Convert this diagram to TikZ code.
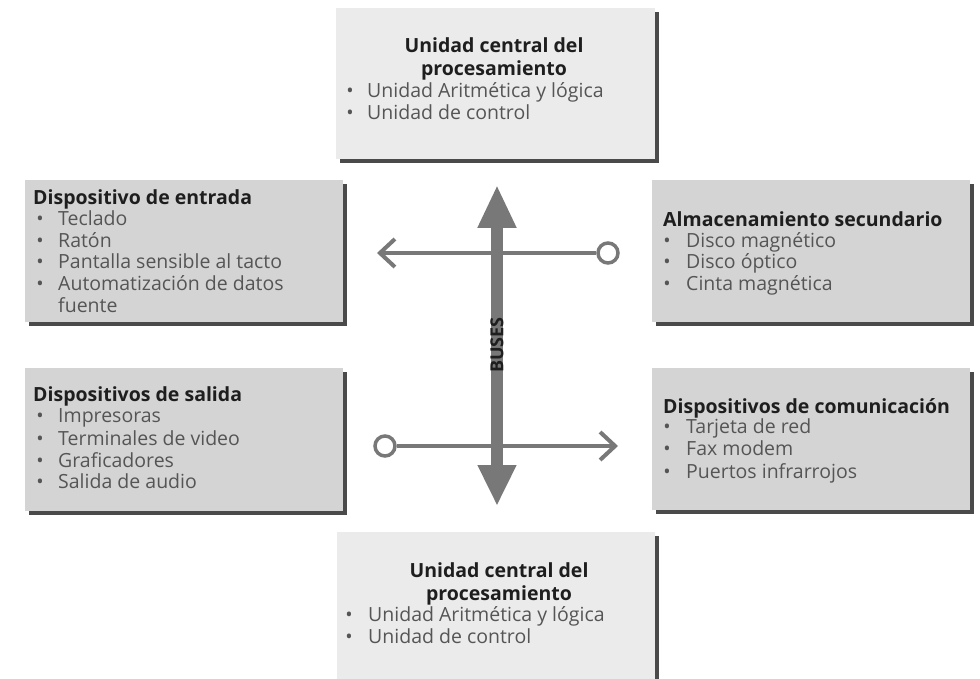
\documentclass[tikz,border=0pt]{standalone}
\usepackage{fontspec}
\setmainfont{Open Sans}
\usetikzlibrary{arrows.meta,shadows}

\definecolor{boxlight}{HTML}{EBEBEB}
\definecolor{boxgray}{HTML}{D4D4D4}
\definecolor{shadowc}{HTML}{4A4A4A}
\definecolor{busgray}{HTML}{787878}
\definecolor{titlec}{HTML}{1E1E1E}
\definecolor{itemc}{HTML}{555555}

\tikzset{
  panel/.style={draw=none, fill=#1, anchor=north west, inner sep=0pt,
    drop shadow={shadow xshift=3.5pt, shadow yshift=-3.5pt, fill=shadowc, opacity=1}},
  heading/.style={font=\fontsize{19.5}{22}\selectfont\bfseries, text=titlec, inner sep=0pt, align=center},
  entry/.style={font=\fontsize{19.5}{22}\selectfont, text=itemc, inner sep=0pt, anchor=mid west},
  dot/.style={font=\fontsize{19.5}{22}\selectfont, text=itemc, inner sep=0pt, anchor=mid},
  busline/.style={draw=busgray, line width=4pt},
  port/.style={circle, draw=busgray, line width=3.5pt, fill=white, minimum size=20pt, inner sep=0pt},
  barb/.style={-{Straight Barb[length=15pt, width=28pt, line width=4pt]}},
}

\newcommand{\listline}[5]{%
  \node[dot] (#1d) at (#2,#4) {•};
  \node[entry] (#1t) at (#3,#4) {#5};}

\begin{document}
\begin{tikzpicture}[x=1pt, y=-1pt]
  \useasboundingbox (0,0) rectangle (980,679);
  \fill[white] (0,0) rectangle (980,679);

  % panels
  \node[panel=boxlight, minimum width=319pt, minimum height=151pt] (cpuA) at (336,8) {};
  \node[panel=boxgray, minimum width=318pt, minimum height=142pt] (inp) at (25,180) {};
  \node[panel=boxgray, minimum width=318pt, minimum height=142pt] (sto) at (652,180) {};
  \node[panel=boxgray, minimum width=318pt, minimum height=143pt] (outp) at (25,368) {};
  \node[panel=boxgray, minimum width=318pt, minimum height=142pt] (com) at (652,368) {};
  \node[panel=boxlight, minimum width=318pt, minimum height=160pt] (cpuB) at (337,532) {};

  % central processing unit (top)
  \node[heading, anchor=mid] (cpuAh1) at (494,50) {Unidad central del};
  \node[heading, anchor=mid] (cpuAh2) at (494,72.5) {procesamiento};
  \listline{cpuAa}{350}{367}{95}{Unidad Aritmética y lógica}
  \listline{cpuAb}{350}{367}{116.5}{Unidad de control}

  % input devices
  \node[heading, anchor=mid west] (inph) at (33,202) {Dispositivo de entrada};
  \listline{inpa}{40}{58}{223}{Teclado}
  \listline{inpb}{40}{58}{245}{Ratón}
  \listline{inpc}{40}{58}{266}{Pantalla sensible al tacto}
  \listline{inpd}{40}{58}{288}{Automatización de datos}
  \node[entry] (inpe) at (58,310) {fuente};

  % secondary storage
  \node[heading, anchor=mid west] (stoh) at (663,224) {Almacenamiento secundario};
  \listline{stoa}{667}{686}{245}{Disco magnético}
  \listline{stob}{667}{686}{266}{Disco óptico}
  \listline{stoc}{667}{686}{288}{Cinta magnética}

  % output devices
  \node[heading, anchor=mid west] (outph) at (33,399) {Dispositivos de salida};
  \listline{outpa}{40}{58}{420}{Impresoras}
  \listline{outpb}{40}{58}{443}{Terminales de video}
  \listline{outpc}{40}{58}{465}{Graficadores}
  \listline{outpd}{40}{58}{486}{Salida de audio}

  % communication devices
  \node[heading, anchor=mid west] (comh) at (663,411) {Dispositivos de comunicación};
  \listline{coma}{667}{686}{431}{Tarjeta de red}
  \listline{comb}{667}{686}{453}{Fax modem}
  \listline{comc}{667}{686}{476}{Puertos infrarrojos}

  % central processing unit (bottom)
  \node[heading, anchor=mid] (cpuBh1) at (499,575) {Unidad central del};
  \node[heading, anchor=mid] (cpuBh2) at (499,597.5) {procesamiento};
  \listline{cpuBa}{349}{368}{619}{Unidad Aritmética y lógica}
  \listline{cpuBb}{349}{368}{641}{Unidad de control}

  % bus lines
  \coordinate (bustop) at (497,185);
  \coordinate (busbot) at (497,506);
  \node[port] (portA) at (608,253) {};
  \coordinate (tipA) at (377,253);
  \node[port] (portB) at (385,446) {};
  \coordinate (tipB) at (618,446);

  \draw[busline, barb] (portA.west) -- (tipA);
  \draw[busline, barb] (portB.east) -- (tipB);
  \draw[draw=busgray, line width=12pt,
        {Triangle[length=43pt, width=36pt]}-{Triangle[length=41pt, width=36pt]}]
        (bustop) -- (busbot);
  \node[rotate=90, font=\fontsize{18}{18}\selectfont\bfseries, text=titlec, inner sep=0pt] (buslabel) at (497,345) {BUSES};
\end{tikzpicture}
\end{document}
